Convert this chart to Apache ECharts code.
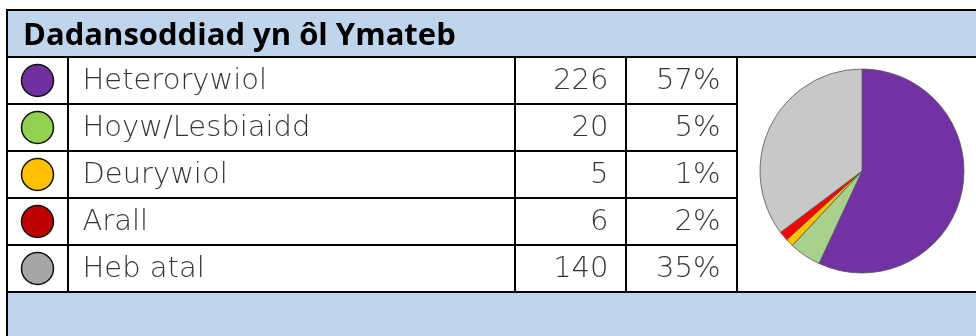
<!DOCTYPE html>
<html lang="cy">
  <head>
    <meta charset="utf-8" />
    <title>Dadansoddiad yn ôl Ymateb</title>
    <script src="https://cdn.jsdelivr.net/npm/echarts@6/dist/echarts.min.js"></script>
    <style>
      html, body { margin: 0; padding: 0; background: #fff; }
      #chart { width: 976px; height: 336px; }
    </style>
  </head>
  <body>
    <div id="chart"></div>
    <script>
      const title = 'Dadansoddiad yn ôl Ymateb'
      const categories = ['Heterorywiol', 'Hoyw/Lesbiaidd', 'Deurywiol', 'Arall', 'Heb atal']
      const counts = [226, 20, 5, 6, 140]
      const percents = ['57%', '5%', '1%', '2%', '35%']
      const dotColors = ['#7030A0', '#92D050', '#FFC000', '#C00000', '#A6A6A6']
      const pieColors = ['#7232A4', '#A9D18E', '#FFC000', '#FF0000', '#C8C8C8']

      const BLUE = '#BED5EC'
      const bodyFont = { fontFamily: 'DejaVu Sans', fontWeight: 200, fontSize: 29, color: '#000' }

      // column grids: circle | name | count | percent
      const cols = [[7, 61], [68, 447], [515, 111], [626, 111]]
      const grids = cols.map(c => ({ left: c[0], width: c[1], top: 57, height: 235 }))

      const yAxes = cols.map((c, i) => ({
        type: 'category', gridIndex: i, data: categories, inverse: true,
        boundaryGap: true,
        axisLine: { show: true, lineStyle: { color: '#000', width: 2 } },
        axisTick: { show: false }, axisLabel: { show: false },
        splitLine: { show: true, interval: 0, lineStyle: { color: '#000', width: 2 } }
      }))
      // right edge of the percent column
      yAxes.push({
        type: 'category', gridIndex: 3, position: 'right', data: categories, inverse: true,
        axisLine: { show: true, lineStyle: { color: '#000', width: 2 } },
        axisTick: { show: false }, axisLabel: { show: false }, splitLine: { show: false }
      })
      const xAxes = cols.map((c, i) => ({ type: 'value', gridIndex: i, min: 0, max: 1, show: false }))

      const textSeries = (idx, xv, texts, pos, dist) => ({
        type: 'scatter', xAxisIndex: idx, yAxisIndex: idx,
        symbolSize: 1, itemStyle: { color: 'rgba(0,0,0,0)' },
        data: categories.map((c, i) => [xv, c]),
        label: {
          show: true, position: pos, distance: dist, offset: [0, 1],
          formatter: p => texts[p.dataIndex], ...bodyFont
        },
        silent: true
      })

      const chart = echarts.init(document.getElementById('chart'))
      chart.setOption({
        animation: false,
        title: {
          text: title, left: 18, top: 16,
          textStyle: { fontFamily: 'Open Sans', fontWeight: 'bold', fontSize: 31, color: '#000' }
        },
        graphic: [
          { type: 'rect', z: -1, shape: { x: 7, y: 10, width: 1000, height: 47 },
            style: { fill: BLUE, stroke: '#000', lineWidth: 2 } },
          { type: 'rect', z: -1, shape: { x: 7, y: 292, width: 1000, height: 60 },
            style: { fill: BLUE, stroke: '#000', lineWidth: 2 } }
        ],
        grid: grids,
        xAxis: xAxes,
        yAxis: yAxes,
        series: [
          {
            type: 'scatter', xAxisIndex: 0, yAxisIndex: 0, symbolSize: 32,
            data: categories.map((c, i) => ({
              value: [0.5, c],
              itemStyle: { color: dotColors[i], opacity: 1, borderColor: '#111', borderWidth: 1.5 }
            })),
            silent: true
          },
          textSeries(1, 0, categories, 'right', 14),
          textSeries(2, 1, counts.map(String), 'left', 17),
          textSeries(3, 1, percents, 'left', 16),
          {
            type: 'pie', center: [862, 171], radius: 102, startAngle: 90, clockwise: true,
            label: { show: false }, labelLine: { show: false }, silent: true,
            itemStyle: { borderColor: '#555', borderWidth: 0.8 },
            data: categories.map((c, i) => ({ name: c, value: counts[i], itemStyle: { color: pieColors[i] } }))
          }
        ]
      })
    </script>
  </body>
</html>
